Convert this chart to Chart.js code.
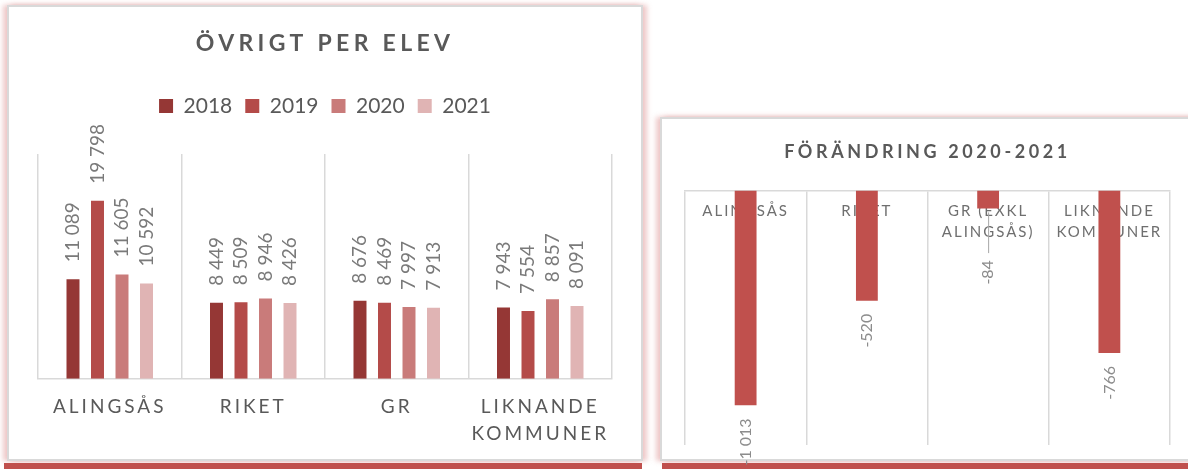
<!DOCTYPE html>
<html>
<head>
<meta charset="utf-8">
<script src="https://cdn.jsdelivr.net/npm/chart.js@4"></script>
<style>
  html, body { margin: 0; padding: 0; background: #fff; }
  body { width: 1188px; height: 469px; position: relative; overflow: hidden; }
  .panel {
    position: absolute; box-sizing: border-box; background: #fff;
    border: 2px solid #d9d9d9;
    box-shadow: -4px 0 5px rgba(205, 100, 100, 0.35), 4px 0 5px rgba(205, 100, 100, 0.35);
  }
  .band { position: absolute; top: 463px; height: 6px; background: #c0504d; }
  canvas { position: absolute; }
</style>
</head>
<body>
<div class="panel" style="left:7px; top:5px; width:636px; height:456px;"></div>
<div class="panel" style="left:660px; top:117px; width:560px; height:344px;"></div>
<div class="band" style="left:4px; width:638px;"></div>
<div class="band" style="left:662px; width:526px;"></div>
<canvas id="perElev" width="632" height="452" style="left:9px; top:7px;"></canvas>
<canvas id="change" width="526" height="350" style="left:662px; top:119px;"></canvas>

<script>
// --- data ---
const categories = [["ALINGSÅS"], ["RIKET"], ["GR"], ["LIKNANDE", "KOMMUNER"]];
const years = ["2018", "2019", "2020", "2021"];
const v2018 = [11089, 8449, 8676, 7943];
const v2019 = [19798, 8509, 8469, 7554];
const v2020 = [11605, 8946, 7997, 8857];
const v2021 = [10592, 8426, 7913, 8091];

const changeCategories = [["ALINGSÅS"], ["RIKET"], ["GR (EXKL", "ALINGSÅS)"], ["LIKNANDE", "KOMMUNER"]];
const change2020to2021 = [-1013, -520, -84, -766];

const yearColors = ["#953735", "#b44b49", "#c97b7a", "#e0b4b4"];
const FONT = "Lato, 'Open Sans', sans-serif";

const fmt = (v) => (v < 0 ? "-" : "") + String(Math.abs(v)).replace(/\B(?=(\d{3})+(?!\d))/g, " ");

// letter spacing: axis text gets opts.px, title and legend their own
function withSpacing(box, px) {
  if (!box) return;
  const draw = box.draw;
  box.draw = function (area) {
    this.ctx.save();
    this.ctx.letterSpacing = px;
    draw.call(this, area);
    this.ctx.restore();
  };
}

const spacing = {
  id: "spacing",
  afterInit(chart, args, opts) {
    withSpacing(chart.legend, "0px");
    withSpacing(chart.titleBlock, opts.title || "0px");
  },
  beforeDraw(chart, args, opts) {
    chart.ctx.letterSpacing = opts.px || "0px";
  },
  afterDraw(chart) {
    chart.ctx.letterSpacing = "0px";
  },
};

// category labels drawn inside the plot, under the bars (right chart)
const innerLabels = {
  id: "innerLabels",
  beforeDatasetsDraw(chart, args, opts) {
    if (!opts.labels) return;
    const { ctx, chartArea } = chart;
    const x = chart.scales.x;
    ctx.save();
    ctx.letterSpacing = opts.spacing;
    ctx.font = opts.font;
    ctx.fillStyle = opts.color;
    ctx.textAlign = "center";
    ctx.textBaseline = "middle";
    opts.labels.forEach((lines, i) => {
      const px = x.getPixelForValue(i);
      lines.forEach((line, j) => {
        ctx.fillText(line, px, chartArea.top + opts.top + j * opts.lineHeight);
      });
    });
    ctx.restore();
  },
};

// rotated value labels at the end of each bar
const valueLabels = {
  id: "valueLabels",
  afterDatasetsDraw(chart, args, opts) {
    const { ctx, chartArea } = chart;
    ctx.save();
    ctx.letterSpacing = "0px";
    ctx.font = opts.font;
    ctx.fillStyle = opts.color;
    ctx.textBaseline = "middle";
    chart.data.datasets.forEach((ds, di) => {
      chart.getDatasetMeta(di).data.forEach((bar, i) => {
        const v = ds.data[i];
        const text = fmt(v);
        ctx.save();
        if (v >= 0) {
          ctx.translate(bar.x, bar.y - opts.offset);
          ctx.rotate(-Math.PI / 2);
          ctx.textAlign = "left";
        } else {
          let top = bar.y + opts.offset;
          if (opts.minTop && top < chartArea.top + opts.minTop) {
            top = chartArea.top + opts.minTop;
            ctx.strokeStyle = opts.leaderColor;
            ctx.lineWidth = 1;
            ctx.beginPath();
            ctx.moveTo(bar.x + 0.5, bar.y + 4);
            ctx.lineTo(bar.x + 0.5, top - 7);
            ctx.stroke();
          }
          ctx.translate(bar.x, top);
          ctx.rotate(-Math.PI / 2);
          ctx.textAlign = "right";
        }
        ctx.fillText(text, 0, 0);
        ctx.restore();
      });
    });
    ctx.restore();
  },
};

const yearSeries = [v2018, v2019, v2020, v2021];

new Chart(document.getElementById("perElev"), {
  type: "bar",
  data: {
    labels: categories,
    datasets: years.map((y, i) => ({
      label: y,
      data: yearSeries[i],
      backgroundColor: yearColors[i],
      categoryPercentage: 0.683,
      barPercentage: 0.53,
    })),
  },
  options: {
    responsive: false,
    animation: false,
    events: [],
    layout: { padding: { left: 29, right: 29, top: 0, bottom: -3 } },
    scales: {
      x: {
        grid: { color: "#d9d9d9", lineWidth: 1.5, drawTicks: false, offset: true },
        border: { color: "#d9d9d9", width: 1.5 },
        ticks: {
          color: "#595959",
          font: { family: FONT, size: 19, lineHeight: 1.4 },
          padding: 15,
          maxRotation: 0,
          autoSkip: false,
        },
      },
      y: { display: false, min: 0, max: 25000 },
    },
    plugins: {
      spacing: { px: "3px", title: "4.3px" },
      title: {
        display: true,
        text: "ÖVRIGT PER ELEV",
        color: "#595959",
        font: { family: FONT, size: 23, weight: "bold" },
        padding: { top: 23, bottom: 25 },
      },
      legend: {
        display: true,
        position: "top",
        labels: {
          color: "#595959",
          font: { family: FONT, size: 21 },
          boxWidth: 14,
          boxHeight: 14,
          padding: 13,
        },
      },
      subtitle: {
        display: true,
        text: "",
        position: "top",
        weight: 500,
        font: { size: 1, lineHeight: 1 },
        padding: { top: 26.5, bottom: 0 },
      },
      tooltip: { enabled: false },
      valueLabels: { font: "19px " + FONT, color: "#7a7a7a", offset: 17 },
    },
  },
  plugins: [spacing, valueLabels],
});

new Chart(document.getElementById("change"), {
  type: "bar",
  data: {
    labels: changeCategories,
    datasets: [
      {
        label: "Förändring",
        data: change2020to2021,
        backgroundColor: "#c0504d",
        categoryPercentage: 1,
        barPercentage: 0.18,
      },
    ],
  },
  options: {
    responsive: false,
    animation: false,
    events: [],
    layout: { padding: { left: 23, right: 18, top: 0, bottom: 24 } },
    scales: {
      x: {
        position: "top",
        grid: { color: "#d9d9d9", lineWidth: 1.5, drawTicks: false, offset: true },
        border: { color: "#d9d9d9", width: 1.5 },
        ticks: { display: false },
      },
      y: { display: false, min: -1200, max: 0 },
    },
    plugins: {
      spacing: { px: "3px", title: "3.6px" },
      title: {
        display: true,
        text: "FÖRÄNDRING 2020-2021",
        color: "#595959",
        font: { family: FONT, size: 18, weight: "bold" },
        padding: { top: 22, bottom: 28 },
      },
      legend: { display: false },
      tooltip: { enabled: false },
      innerLabels: {
        labels: changeCategories,
        font: "15px " + FONT,
        color: "#6f6f6f",
        spacing: "2px",
        top: 20.5,
        lineHeight: 21,
      },
      valueLabels: {
        font: "16px " + FONT,
        color: "#8c8c8c",
        offset: 13,
        minTop: 69.5,
        leaderColor: "#a6a6a6",
      },
    },
  },
  plugins: [spacing, innerLabels, valueLabels],
});
</script>
</body>
</html>
